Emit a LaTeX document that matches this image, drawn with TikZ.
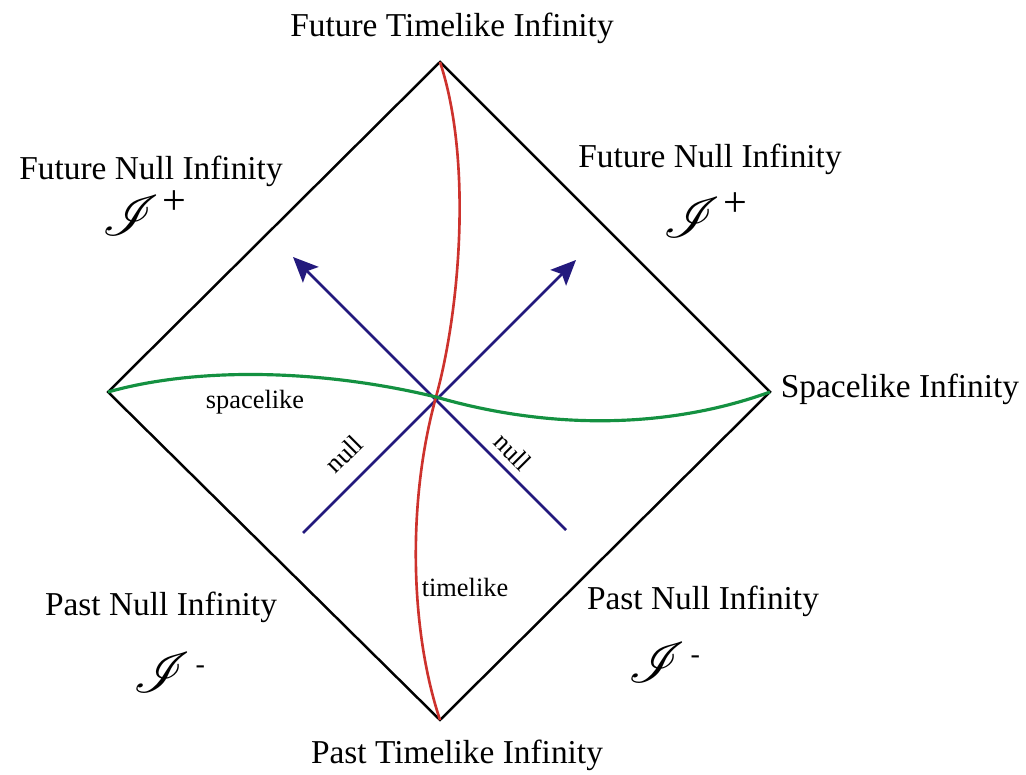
\documentclass[tikz,border=0pt]{standalone}
\usepackage{amsmath}
\usepackage{graphicx}
\usepackage{mathrsfs}
\usepackage{fontspec}
\setmainfont{Liberation Serif}
\usetikzlibrary{arrows.meta}
\definecolor{raynavy}{RGB}{35,25,125}
\definecolor{timered}{RGB}{205,50,45}
\definecolor{spacegreen}{RGB}{20,145,65}
\newcommand{\scriplus}{\scalebox{1.3}{$\mathscr{I}$}\kern2pt\raisebox{12pt}{\fontsize{24}{26}\selectfont +}}
\newcommand{\scriminus}{\scalebox{1.3}{$\mathscr{I}$}\kern3pt\raisebox{11pt}{\fontsize{16}{18}\selectfont -}}

\begin{document}
\begin{tikzpicture}[
    infty/.style={font=\fontsize{19}{22}\selectfont, inner sep=0pt},
    tag/.style={font=\fontsize{15}{18}\selectfont, inner sep=0pt},
    scri/.style={font=\fontsize{33}{38}\selectfont, inner sep=0pt, anchor=base west},
    boundary/.style={line width=1.4pt, black, line join=miter},
    ray/.style={-{Stealth[length=5mm,width=4.4mm,inset=1mm]}, line width=1.6pt, raynavy},
    timecurve/.style={line width=1.5pt, timered},
    spacecurve/.style={line width=1.8pt, spacegreen}
]
\useasboundingbox (0,0) rectangle (20.52,15.5);

\coordinate (iplus) at (8.8,14.26);
\coordinate (iminus) at (8.8,1.1);
\coordinate (west) at (2.16,7.66);
\coordinate (east) at (15.4,7.66);
\coordinate (origin) at (8.72,7.56);
\coordinate (nw) at (5.86,10.36);
\coordinate (ne) at (11.52,10.30);
\coordinate (sw) at (6.06,4.84);
\coordinate (se) at (11.32,4.90);

\draw[boundary] (iplus) -- (east) -- (iminus) -- (west) -- cycle;

\draw[ray] (se) -- (nw);
\draw[ray] (sw) -- (ne);

\draw[timecurve] (iplus) .. controls (9.45,12.3) and (9.2,9.3) .. (origin)
    .. controls (8.14,5.47) and (8.2,2.9) .. (iminus);
\draw[spacecurve] (west) .. controls (4,8.18) and (6.5,8.1) .. (origin)
    .. controls (10.92,6.92) and (13.3,6.9) .. (east);

\node[infty] (ftl) at (9.04,14.94) {Future Timelike Infinity};
\node[infty] (ptl) at (9.14,0.4) {Past Timelike Infinity};
\node[infty] (sli) at (18.0,7.72) {Spacelike Infinity};

\node[infty] (fnl) at (3.02,12.08) {Future Null Infinity};
\node[scri] (scrifl) at (2.04,10.78) {\scriplus};
\node[infty] (fnr) at (14.2,12.32) {Future Null Infinity};
\node[scri] (scrifr) at (13.26,10.74) {\scriplus};
\node[infty] (pnl) at (3.22,3.36) {Past Null Infinity};
\node[scri] (scripl) at (2.66,1.64) {\scriminus};
\node[infty] (pnr) at (14.06,3.48) {Past Null Infinity};
\node[scri] (scripr) at (12.56,1.84) {\scriminus};

\node[tag] (slabel) at (5.1,7.46) {spacelike};
\node[tag] (tlabel) at (9.3,3.76) {timelike};
\node[tag, rotate=45] (nlabell) at (6.88,6.42) {null};
\node[tag, rotate=-45] (nlabelr) at (10.26,6.46) {null};
\end{tikzpicture}
\end{document}
